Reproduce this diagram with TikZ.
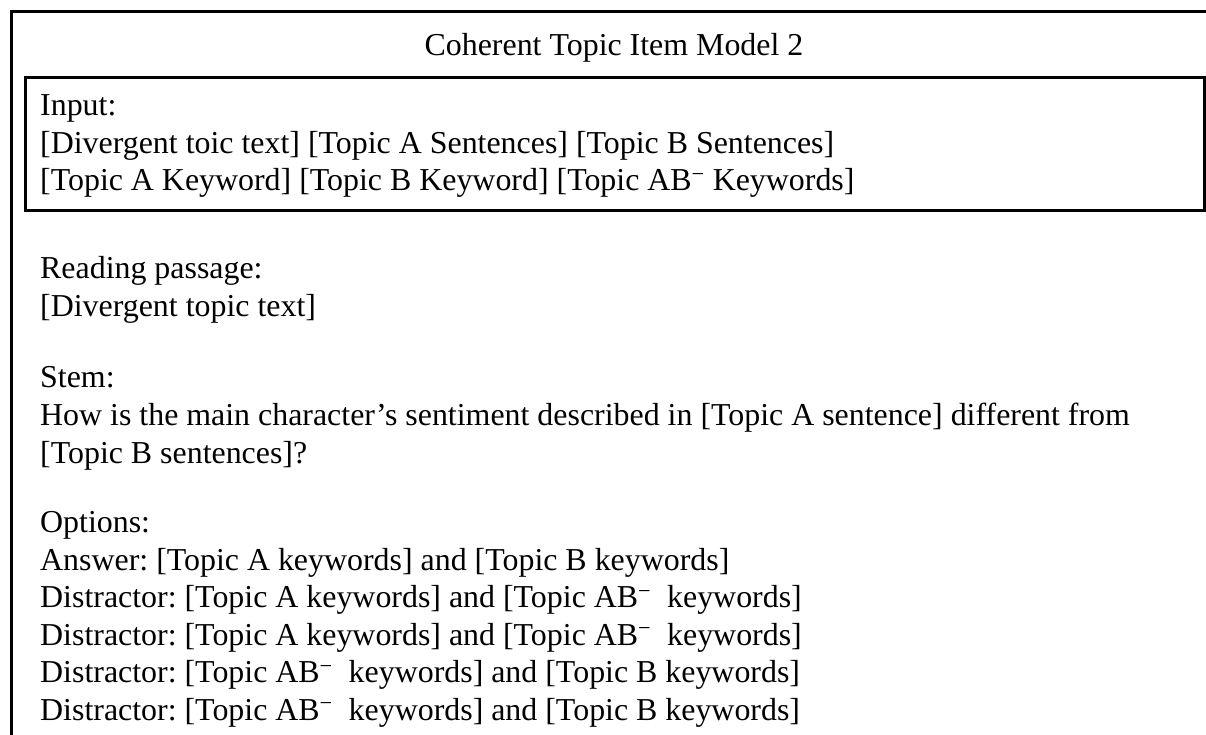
\documentclass[tikz,border=0pt]{standalone}
\usepackage{fontspec}
\setmainfont{Liberation Serif}
\frenchspacing
\newcommand{\abminus}{AB\textsuperscript{\char"2212}}
\begin{document}
\begin{tikzpicture}[x=1pt,y=-1pt,
  frame/.style={draw=black,line width=3pt},
  txt/.style={inner sep=0pt,anchor=base west,font=\fontsize{31.9}{38}\selectfont},
  ttl/.style={inner sep=0pt,anchor=base,font=\fontsize{31.9}{38}\selectfont}]
\clip (0,0) rectangle (1206,734);
\fill[white] (0,0) rectangle (1206,734);
% outer frame, running past the right and bottom edges
\draw[frame] (1230,11) -- (11,11) -- (11,760);
% input box
\draw[frame] (25,77) rectangle (1204,210);
\node[ttl] (title) at (614,55) {Coherent Topic Item Model 2};
% input
\node[txt] (in0) at (40,115.5) {Input:};
\node[txt] (in1) at (40,153) {[Divergent toic text] [Topic A Sentences] [Topic B Sentences]};
\node[txt] (in2) at (40,190.5) {[Topic A Keyword] [Topic B Keyword] [Topic \abminus{} Keywords]};
% reading passage
\node[txt] (rp0) at (40,278.3) {Reading passage:};
\node[txt] (rp1) at (40,316) {[Divergent topic text]};
% stem
\node[txt] (st0) at (40,387.5) {Stem:};
\node[txt] (st1) at (40,425.5) {How is the main character’s sentiment described in [Topic A sentence] different from};
\node[txt] (st2) at (40,463) {[Topic B sentences]?};
% options
\node[txt] (op0) at (40,532.5) {Options:};
\node[txt] (op1) at (40,570) {Answer: [Topic A keywords] and [Topic B keywords]};
\node[txt] (op2) at (40,607.5) {Distractor: [Topic A keywords] and [Topic \abminus\ \ keywords]};
\node[txt] (op3) at (40,645) {Distractor: [Topic A keywords] and [Topic \abminus\ \ keywords]};
\node[txt] (op4) at (40,682.5) {Distractor: [Topic \abminus\ \ keywords] and [Topic B keywords]};
\node[txt] (op5) at (40,720) {Distractor: [Topic \abminus\ \ keywords] and [Topic B keywords]};
\end{tikzpicture}
\end{document}
